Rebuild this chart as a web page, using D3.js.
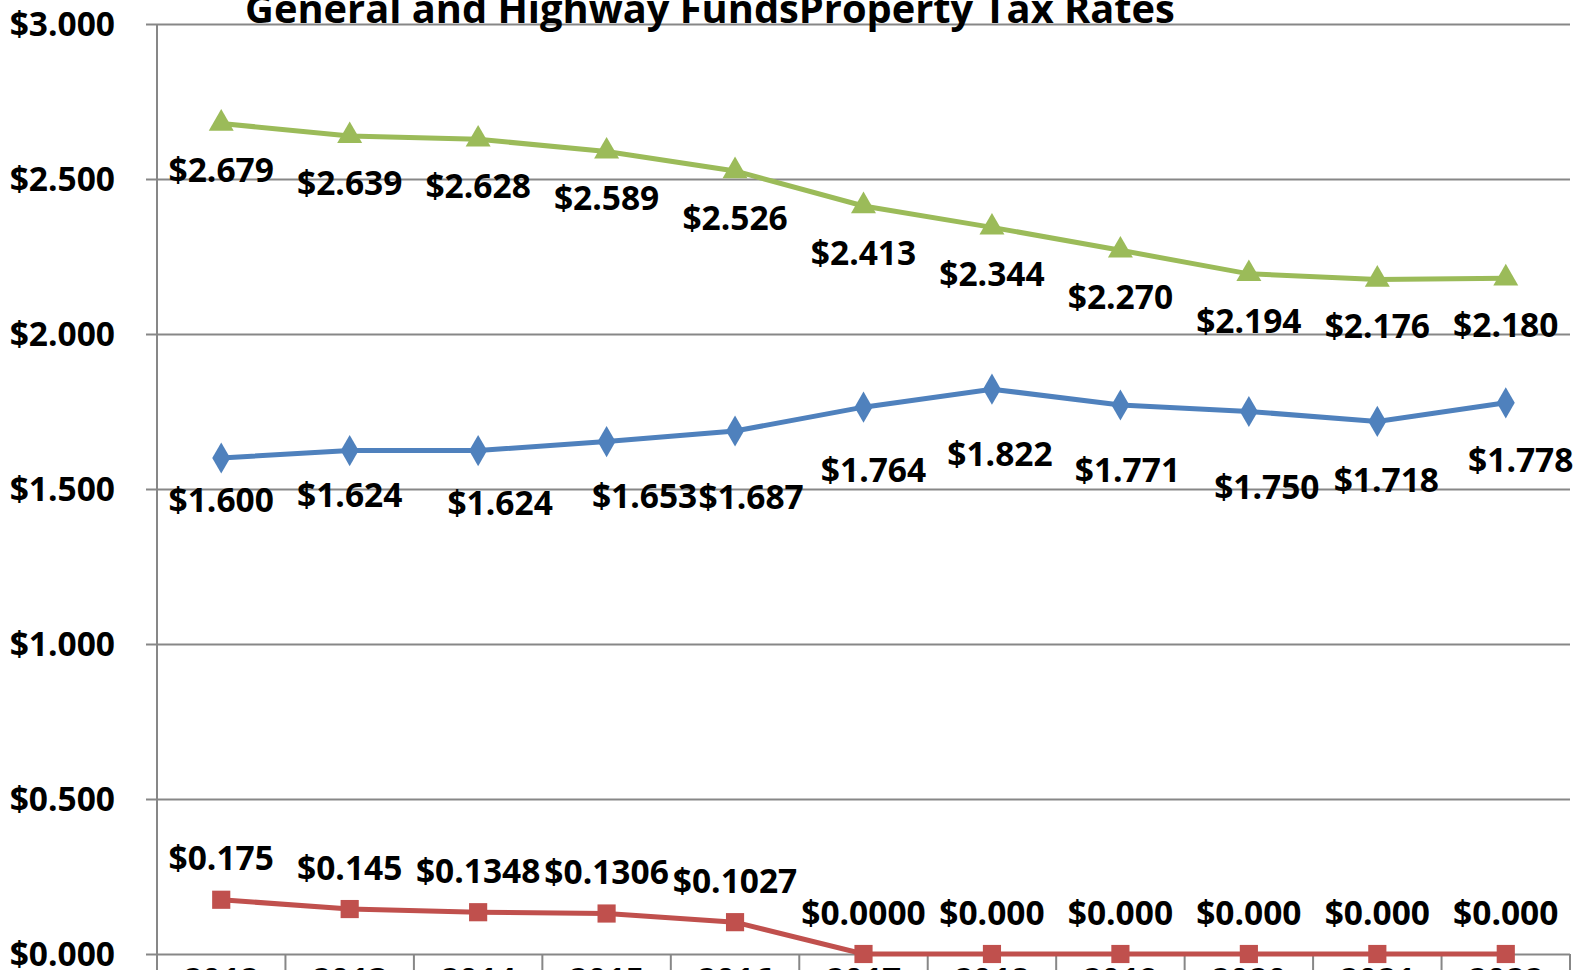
<!DOCTYPE html>
<html>
<head>
<meta charset="utf-8">
<script src="https://cdn.jsdelivr.net/npm/d3@7"></script>
<style>
  body { margin: 0; background: #fff; overflow: hidden; }
  text { font-family: "Open Sans", "DejaVu Sans", sans-serif; font-weight: bold; fill: #000; }
</style>
</head>
<body>
<div id="chart"></div>
<script>
// data
var years = ['2012', '2013', '2014', '2015', '2016', '2017', '2018', '2019', '2020', '2021', '2022'];
var totalRate = [2.679, 2.639, 2.628, 2.589, 2.526, 2.413, 2.344, 2.270, 2.194, 2.176, 2.180];
var generalRate = [1.600, 1.624, 1.624, 1.653, 1.687, 1.764, 1.822, 1.771, 1.750, 1.718, 1.778];
var highwayRate = [0.175, 0.145, 0.1348, 0.1306, 0.1027, 0, 0, 0, 0, 0, 0];
var totalLabels = ['$2.679', '$2.639', '$2.628', '$2.589', '$2.526', '$2.413', '$2.344', '$2.270', '$2.194', '$2.176', '$2.180'];
var generalLabels = ['$1.600', '$1.624', '$1.624', '$1.653', '$1.687', '$1.764', '$1.822', '$1.771', '$1.750', '$1.718', '$1.778'];
var highwayLabels = ['$0.175', '$0.145', '$0.1348', '$0.1306', '$0.1027', '$0.0000', '$0.000', '$0.000', '$0.000', '$0.000', '$0.000'];
var yTicks = [0, 0.5, 1, 1.5, 2, 2.5, 3];
var title = 'General and Highway FundsProperty Tax Rates';

// label nudges for the blue series (pixels from the marker)
var generalDx = [0, 0, 22, 38, 16, 10, 8, 7, 18, 9, 15];
var generalDy = [42, 45, 53, 55, 66, 63, 65, 65, 76, 59, 57];

var svgWidth = 1590;
var svgHeight = 970;
var plotLeft = 157, plotRight = 1570, plotTop = 24, plotBottom = 954;

var svg = d3.select('#chart')
    .append('svg')
    .attr('width', svgWidth)
    .attr('height', svgHeight);

var x = d3.scaleBand()
    .domain(years)
    .range([plotLeft, plotRight])
    .padding(0);

var y = d3.scaleLinear()
    .domain([0, 3])
    .range([plotBottom, plotTop]);

var cx = d => x(d) + x.bandwidth() / 2;

// gridlines + y labels
var yAxis = d3.axisLeft(y)
    .tickValues(yTicks)
    .tickSize(0)
    .tickFormat(d => '$' + d3.format('.3f')(d));

var gy = svg.append('g')
    .call(yAxis);
gy.select('.domain').remove();
gy.selectAll('.tick line')
    .attr('x1', plotLeft - 11)
    .attr('x2', plotRight)
    .attr('stroke', '#878787')
    .attr('stroke-width', 2);
gy.selectAll('.tick text')
    .attr('x', 115)
    .attr('dy', '0.35em')
    .style('font-size', '33.5px')
    .style('font-family', '"Open Sans", sans-serif')
    .style('font-weight', 'bold')
    .style('fill', '#000')
    .attr('text-anchor', 'end');

// left axis line
svg.append('line')
    .attr('x1', plotLeft).attr('x2', plotLeft)
    .attr('y1', plotTop).attr('y2', svgHeight)
    .attr('stroke', '#878787')
    .attr('stroke-width', 2);

// category boundary ticks
svg.append('g').selectAll('line')
    .data(years.slice(1).concat(['end']))
    .enter()
    .append('line')
    .attr('x1', d => d === 'end' ? plotRight : x(d))
    .attr('x2', d => d === 'end' ? plotRight : x(d))
    .attr('y1', plotBottom)
    .attr('y2', svgHeight)
    .attr('stroke', '#878787')
    .attr('stroke-width', 2);

// year labels (mostly below the frame)
svg.append('g').selectAll('text')
    .data(years)
    .enter()
    .append('text')
    .attr('x', d => cx(d))
    .attr('y', 991)
    .attr('text-anchor', 'middle')
    .style('font-size', '33px')
    .text(d => d);

// title
svg.append('text')
    .attr('x', 710)
    .attr('y', 23)
    .attr('text-anchor', 'middle')
    .style('font-size', '39.8px')
    .text(title);

var line = d3.line()
    .x((d, i) => cx(years[i]))
    .y(d => y(d));

function drawSeries(values, color, shape, size) {
    svg.append('path')
        .datum(values)
        .attr('fill', 'none')
        .attr('stroke', color)
        .attr('stroke-width', 5)
        .attr('d', line);

    svg.append('g').selectAll('path')
        .data(values)
        .enter()
        .append('path')
        .attr('transform', (d, i) => `translate(${cx(years[i])},${y(d)})`)
        .attr('d', d3.symbol().type(shape).size(size))
        .attr('fill', color);
}

drawSeries(totalRate, '#9BBB59', d3.symbolTriangle, 270);
drawSeries(generalRate, '#4F81BD', d3.symbolDiamond, 280);
drawSeries(highwayRate, '#C0504D', d3.symbolSquare, 330);

function drawLabels(values, labels, dx, dy) {
    svg.append('g').selectAll('text')
        .data(values)
        .enter()
        .append('text')
        .attr('x', (d, i) => cx(years[i]) + dx(i))
        .attr('y', (d, i) => y(d) + dy(i))
        .attr('dy', '0.35em')
        .attr('text-anchor', 'middle')
        .style('font-size', '33.5px')
        .text((d, i) => labels[i]);
}

drawLabels(totalRate, totalLabels, i => 0, i => 47);
drawLabels(generalRate, generalLabels, i => generalDx[i], i => generalDy[i]);
drawLabels(highwayRate, highwayLabels, i => 0, i => -41);
</script>
</body>
</html>
